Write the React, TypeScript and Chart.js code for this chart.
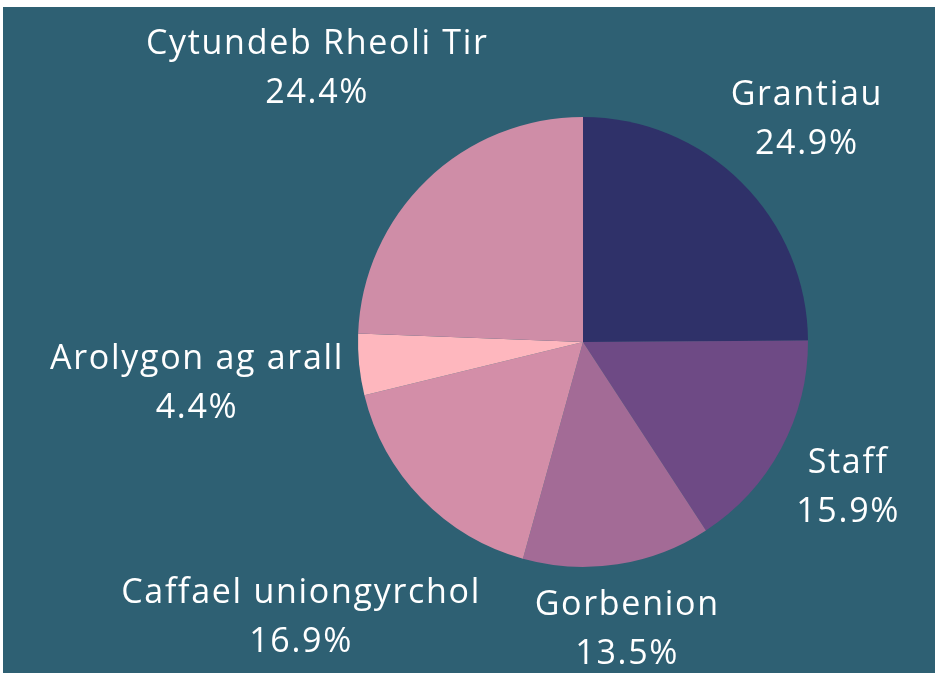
import React, { useEffect, useRef } from "react";
import { Chart, registerables } from "chart.js";

Chart.register(...registerables);

const categories = [
  "Grantiau",
  "Staff",
  "Gorbenion",
  "Caffael uniongyrchol",
  "Arolygon ag arall",
  "Cytundeb Rheoli Tir",
];
const values = [24.9, 15.9, 13.5, 16.9, 4.4, 24.4];
const sliceColors = ["#2F3169", "#6E4A85", "#A36B96", "#D38EA8", "#FEB7BE", "#CF8DA7"];
const BG = "#2E6073";
const FONT = "34px 'Open Sans', sans-serif";
const LINE_GAP = 49;
const PAD = 13;
const BASELINE_SHIFT = 3;

const outsideLabels = {
  id: "outsideLabels",
  afterDatasetsDraw(chart: any) {
    const ctx = chart.ctx;
    const meta = chart.getDatasetMeta(0);
    ctx.save();
    ctx.font = FONT;
    try {
      (ctx as any).letterSpacing = "1.7px";
    } catch (e) {}
    ctx.fillStyle = "#FFFFFF";
    ctx.textAlign = "center";
    ctx.textBaseline = "middle";
    meta.data.forEach((arc: any, i: number) => {
      const p = arc.getProps(["x", "y", "startAngle", "endAngle", "outerRadius"], true);
      const mid = (p.startAngle + p.endAngle) / 2;
      const c = Math.cos(mid);
      const s = Math.sin(mid);
      const l1 = categories[i];
      const l2 = values[i].toFixed(1) + "%";
      const w = Math.max(ctx.measureText(l1).width, ctx.measureText(l2).width) / 2;
      const h = (LINE_GAP + 24) / 2;
      const t = p.outerRadius + PAD + Math.abs(c) * w + Math.abs(s) * h;
      const cx = p.x + c * t;
      const cy = p.y + s * t + BASELINE_SHIFT;
      ctx.fillText(l1, cx, cy - LINE_GAP / 2);
      ctx.fillText(l2, cx, cy + LINE_GAP / 2);
    });
    ctx.restore();
  },
};

export default function App() {
  const ref = useRef<HTMLCanvasElement>(null);
  useEffect(() => {
    document.body.style.margin = "0";
    document.body.style.overflow = "hidden";
    const chart = new Chart(ref.current!, {
      type: "pie",
      data: {
        labels: categories,
        datasets: [
          {
            data: values,
            backgroundColor: sliceColors,
            borderWidth: 0,
          },
        ],
      },
      options: {
        responsive: false,
        animation: false,
        layout: { padding: { left: 355, right: 127, top: 110, bottom: 106 } },
        plugins: {
          legend: { display: false },
          tooltip: { enabled: false },
        },
      },
      plugins: [outsideLabels],
    });
    return () => chart.destroy();
  }, []);
  return (
    <div style={{ position: "fixed", left: 3, top: 7, width: 932, height: 666, background: BG }}>
      <canvas ref={ref} width={932} height={666} style={{ display: "block" }} />
    </div>
  );
}
